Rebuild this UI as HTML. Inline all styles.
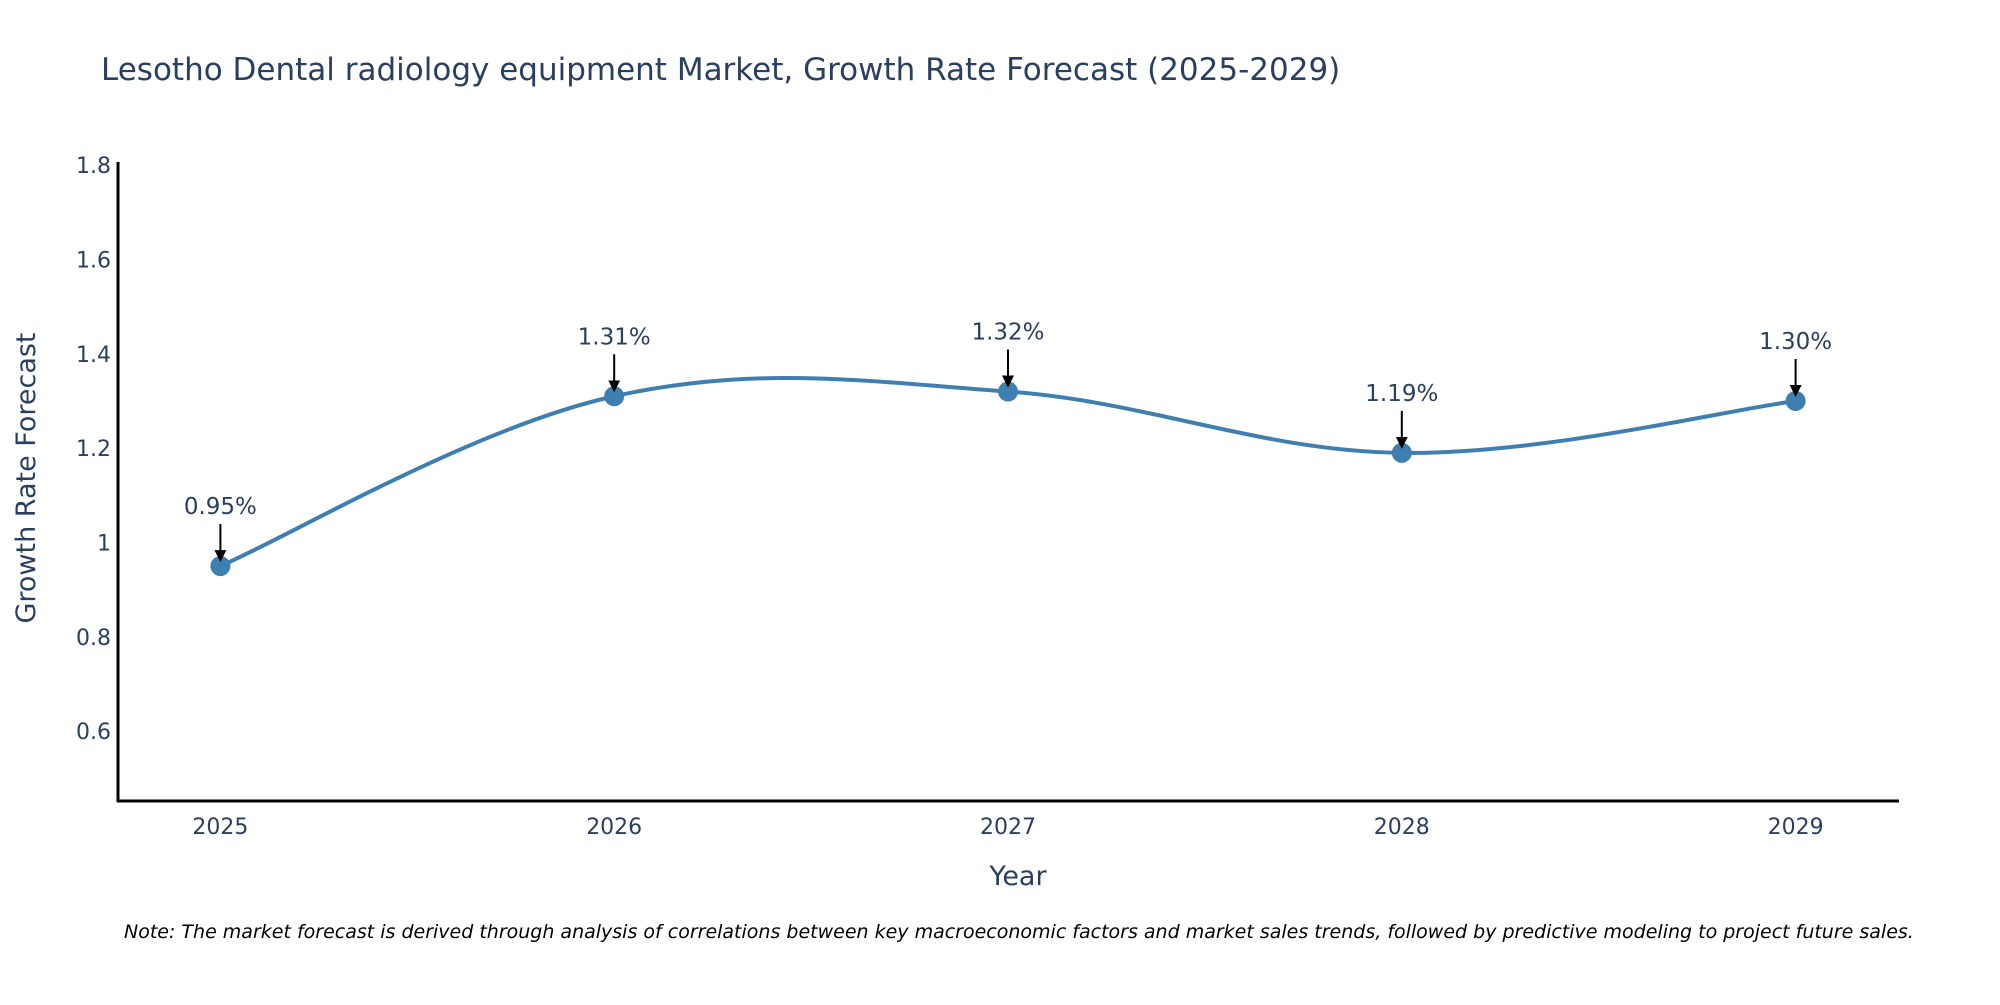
<!DOCTYPE html>
<html><head><meta charset="utf-8"><style>
body{margin:0;background:#fff;}
svg text{font-family:"DejaVu Sans","Liberation Sans",sans-serif;fill:#2a3f5f;}
</style></head><body>
<svg id="chart" width="2000" height="1000" xmlns="http://www.w3.org/2000/svg">
<rect width="2000" height="1000" fill="#fff"/>
<text x="101" y="80" font-size="31">Lesotho Dental radiology equipment Market, Growth Rate Forecast (2025-2029)</text>
<g id="yticks"></g>
<g id="xticks"></g>
<line x1="118" y1="162" x2="118" y2="802" stroke="#000" stroke-width="3"/>
<line x1="117" y1="801" x2="1899" y2="801" stroke="#000" stroke-width="3"/>
<text x="0" y="0" font-size="27" text-anchor="middle" transform="translate(35,478) rotate(-90)">Growth Rate Forecast</text>
<text x="1018" y="885" font-size="27" text-anchor="middle">Year</text>
<g id="series"></g>
<g id="annots"></g>
<text x="124" y="938" font-size="19" font-style="italic" style="fill:#000">Note: The market forecast is derived through analysis of correlations between key macroeconomic factors and market sales trends, followed by predictive modeling to project future sales.</text>
</svg>
<script>
const years = [2025, 2026, 2027, 2028, 2029];
const growth = [0.95, 1.31, 1.32, 1.19, 1.30];
const labels = ["0.95%", "1.31%", "1.32%", "1.19%", "1.30%"];
const yTicks = [0.6, 0.8, 1, 1.2, 1.4, 1.6, 1.8];
const yTickLabels = ["0.6", "0.8", "1", "1.2", "1.4", "1.6", "1.8"];

const NS = "http://www.w3.org/2000/svg";
const Y0 = 0.452, Y1 = 1.8066, PY0 = 801, PY1 = 162;
const X0 = 2024.74, X1 = 2029.26, PX0 = 118, PX1 = 1898;
const sx = v => PX0 + (v - X0) / (X1 - X0) * (PX1 - PX0);
const sy = v => PY0 - (v - Y0) / (Y1 - Y0) * (PY0 - PY1);
function mk(tag, attrs, parent) {
  const e = document.createElementNS(NS, tag);
  for (const k in attrs) e.setAttribute(k, attrs[k]);
  parent.appendChild(e);
  return e;
}
const yt = document.getElementById('yticks');
yTicks.forEach((v, i) => {
  const t = mk('text', {x: 111, y: sy(v) + 8, 'font-size': 22, 'text-anchor': 'end'}, yt);
  
  
  t.textContent = yTickLabels[i];
});
const xt = document.getElementById('xticks');
years.forEach(y => {
  const t = mk('text', {x: sx(y), y: 834, 'font-size': 22, 'text-anchor': 'middle'}, xt);
  
  
  t.textContent = String(y);
});
const pts = years.map((y, i) => [sx(y), sy(growth[i])]);
let d = `M${pts[0][0]},${pts[0][1]}`;
const k = 0.18;
for (let i = 0; i < pts.length - 1; i++) {
  const p0 = pts[Math.max(0, i - 1)], p1 = pts[i], p2 = pts[i + 1], p3 = pts[Math.min(pts.length - 1, i + 2)];
  const c1 = [p1[0] + (p2[0] - p0[0]) * k, p1[1] + (p2[1] - p0[1]) * k];
  const c2 = [p2[0] - (p3[0] - p1[0]) * k, p2[1] - (p3[1] - p1[1]) * k];
  d += ` C${c1[0]},${c1[1]} ${c2[0]},${c2[1]} ${p2[0]},${p2[1]}`;
}
const s = document.getElementById('series');
const line = mk('path', {d: d, fill: 'none', stroke: '#3f7fb0', 'stroke-width': 4}, s);


const an = document.getElementById('annots');
mk('defs', {}, an).innerHTML = '<marker id="ah" markerWidth="6" markerHeight="6" refX="5" refY="3" orient="auto" markerUnits="strokeWidth"><path d="M0,0 L6,3 L0,6 Z" fill="#000"/></marker>';
pts.forEach((p, i) => {
  const c = mk('circle', {cx: p[0], cy: p[1], r: 10, fill: '#3f7fb0'}, s);
  
  
  const a = mk('line', {x1: p[0], y1: p[1] - 42, x2: p[0], y2: p[1] - 6, stroke: '#000', 'stroke-width': 2, 'marker-end': 'url(#ah)'}, an);
  
  
  const t = mk('text', {x: p[0], y: p[1] - 52, 'font-size': 23, 'text-anchor': 'middle'}, an);
  
  
  t.textContent = labels[i];
});
</script>
</body></html>
